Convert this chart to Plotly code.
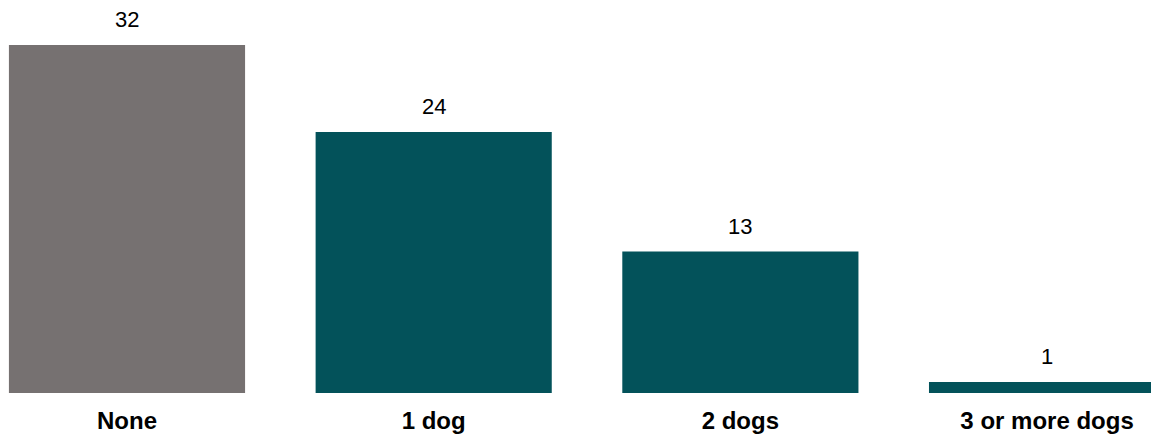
import plotly.graph_objects as go

categories = ["None", "1 dog", "2 dogs", "3 or more dogs"]
values = [32, 24, 13, 1]
colors = ["#767171", "#03525A", "#03525A", "#03525A"]
tick_labels = ["<b>None</b>", "<b>1 dog</b>", "<b>2 dogs</b>", "<b>3 or more dogs</b>"]

fig = go.Figure()
fig.add_trace(go.Bar(
    x=categories,
    y=values,
    marker=dict(color=colors, line=dict(width=0)),
    hoverinfo="skip",
))

for c, v in zip(categories, values):
    fig.add_annotation(
        x=c, y=v, text=str(v), showarrow=False,
        yanchor="bottom", yshift=11,
        font=dict(family="Liberation Sans, Arial, sans-serif", size=22, color="#000000"),
    )

fig.update_layout(
    width=1151, height=429,
    margin=dict(l=0, r=0, t=0, b=44),
    paper_bgcolor="white", plot_bgcolor="white",
    bargap=0.23,
    showlegend=False,
    font=dict(family="Liberation Sans, Arial, sans-serif", size=20, color="#000000"),
)
fig.update_xaxes(
    range=[-0.388, 3.365],
    tickmode="array", tickvals=categories, ticktext=tick_labels,
    ticks="outside", ticklen=6, tickcolor="rgba(0,0,0,0)",
    showline=False, showgrid=False, zeroline=False,
    tickfont=dict(size=24, color="#000000"),
)
fig.update_yaxes(
    range=[0, 35.40], visible=False, showgrid=False, zeroline=False,
)

fig.write_html("out.html")
